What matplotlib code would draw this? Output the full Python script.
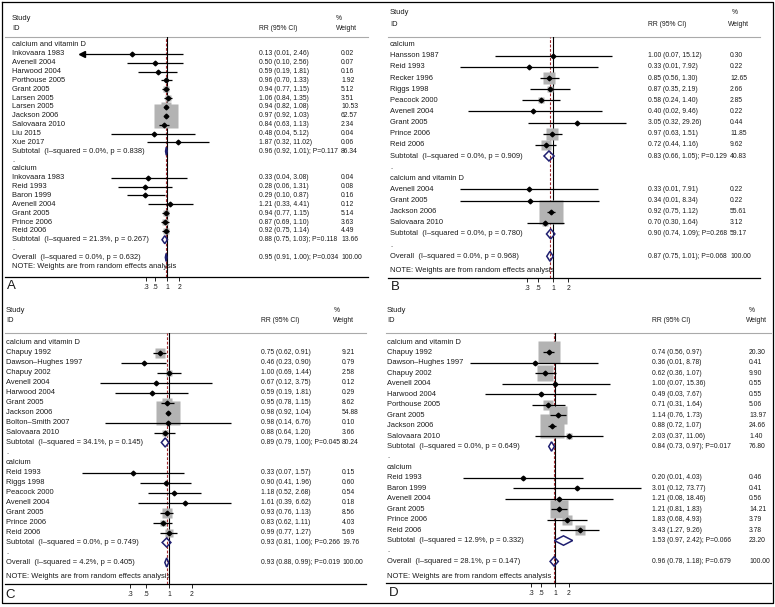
import matplotlib
matplotlib.use("Agg")
import matplotlib.pyplot as plt
from matplotlib.ticker import NullLocator
import numpy as np

plt.rcParams['font.family'] = ['Liberation Sans', 'DejaVu Sans']

# ---------------- DATA ----------------
# Panel A
A1_TITLE = "calcium and vitamin D"
A1_STUDY = ["Inkovaara 1983", "Avenell 2004", "Harwood 2004", "Porthouse 2005", "Grant 2005",
            "Larsen 2005", "Larsen 2005", "Jackson 2006", "Salovaara 2010", "Liu 2015", "Xue 2017"]
A1_RR = [0.13, 0.50, 0.59, 0.96, 0.94, 1.06, 0.94, 0.97, 0.84, 0.48, 1.87]
A1_LO = [0.0075, 0.10, 0.19, 0.70, 0.77, 0.84, 0.82, 0.92, 0.63, 0.04, 0.32]
A1_HI = [2.46, 2.56, 1.81, 1.33, 1.15, 1.35, 1.08, 1.03, 1.13, 5.12, 11.02]
A1_W = [0.02, 0.07, 0.16, 1.92, 5.12, 3.51, 10.53, 62.57, 2.34, 0.04, 0.06]
A1_SUB = [0.96, 0.92, 1.01]          # estimate, lower, upper
A1_SUB_STATS = [0.117, 86.34, 0.0, 0.838]   # P, weight, I-squared, p(het)

A2_TITLE = "calcium"
A2_STUDY = ["Inkovaara 1983", "Reid 1993", "Baron 1999", "Avenell 2004", "Grant 2005",
            "Prince 2006", "Reid 2006"]
A2_RR = [0.33, 0.28, 0.29, 1.21, 0.94, 0.87, 0.92]
A2_LO = [0.04, 0.06, 0.10, 0.33, 0.77, 0.69, 0.75]
A2_HI = [3.08, 1.31, 0.87, 4.41, 1.15, 1.10, 1.14]
A2_W = [0.04, 0.08, 0.16, 0.12, 5.14, 3.63, 4.49]
A2_SUB = [0.88, 0.75, 1.03]
A2_SUB_STATS = [0.118, 13.66, 21.3, 0.267]

A_OVERALL = [0.95, 0.91, 1.00]
A_OVERALL_STATS = [0.034, 100.00, 0.0, 0.632]

# Panel B
B1_TITLE = "calcium"
B1_STUDY = ["Hansson 1987", "Reid 1993", "Recker 1996", "Riggs 1998", "Peacock 2000",
            "Avenell 2004", "Grant 2005", "Prince 2006", "Reid 2006"]
B1_RR = [1.00, 0.33, 0.85, 0.87, 0.58, 0.40, 3.05, 0.97, 0.72]
B1_LO = [0.07, 0.014, 0.56, 0.35, 0.24, 0.02, 0.32, 0.63, 0.44]
B1_HI = [15.12, 7.92, 1.30, 2.19, 1.40, 9.46, 29.26, 1.51, 1.16]
B1_W = [0.30, 0.22, 12.65, 2.66, 2.85, 0.22, 0.44, 11.85, 9.62]
B1_SUB = [0.83, 0.66, 1.05]
B1_SUB_STATS = [0.129, 40.83, 0.0, 0.909]

B2_TITLE = "calcium and vitamin D"
B2_STUDY = ["Avenell 2004", "Grant 2005", "Jackson 2006", "Salovaara 2010"]
B2_RR = [0.33, 0.34, 0.92, 0.70]
B2_LO = [0.014, 0.014, 0.75, 0.30]
B2_HI = [7.91, 8.34, 1.12, 1.64]
B2_W = [0.22, 0.22, 55.61, 3.12]
B2_SUB = [0.90, 0.74, 1.09]
B2_SUB_STATS = [0.268, 59.17, 0.0, 0.780]

B_OVERALL = [0.87, 0.75, 1.01]
B_OVERALL_STATS = [0.068, 100.00, 0.0, 0.968]

# Panel C
C1_TITLE = "calcium and vitamin D"
C1_STUDY = ["Chapuy 1992", "Dawson\u2013Hughes 1997", "Chapuy 2002", "Avenell 2004", "Harwood 2004",
            "Grant 2005", "Jackson 2006", "Bolton\u2013Smith 2007", "Salovaara 2010"]
C1_RR = [0.75, 0.46, 1.00, 0.67, 0.59, 0.95, 0.98, 0.98, 0.88]
C1_LO = [0.62, 0.23, 0.69, 0.12, 0.19, 0.78, 0.92, 0.14, 0.64]
C1_HI = [0.91, 0.90, 1.44, 3.75, 1.81, 1.15, 1.04, 6.76, 1.20]
C1_W = [9.21, 0.79, 2.58, 0.12, 0.29, 8.62, 54.88, 0.10, 3.66]
C1_SUB = [0.89, 0.79, 1.00]
C1_SUB_STATS = [0.045, 80.24, 34.1, 0.145]

C2_TITLE = "calcium"
C2_STUDY = ["Reid 1993", "Riggs 1998", "Peacock 2000", "Avenell 2004", "Grant 2005",
            "Prince 2006", "Reid 2006"]
C2_RR = [0.33, 0.90, 1.18, 1.61, 0.93, 0.83, 0.99]
C2_LO = [0.07, 0.41, 0.52, 0.39, 0.76, 0.62, 0.77]
C2_HI = [1.57, 1.96, 2.68, 6.62, 1.13, 1.11, 1.27]
C2_W = [0.15, 0.60, 0.54, 0.18, 8.56, 4.03, 5.69]
C2_SUB = [0.93, 0.81, 1.06]
C2_SUB_STATS = [0.266, 19.76, 0.0, 0.749]

C_OVERALL = [0.93, 0.88, 0.99]
C_OVERALL_STATS = [0.019, 100.00, 4.2, 0.405]

# Panel D
D1_TITLE = "calcium and vitamin D"
D1_STUDY = ["Chapuy 1992", "Dawson\u2013Hughes 1997", "Chapuy 2002", "Avenell 2004", "Harwood 2004",
            "Porthouse 2005", "Grant 2005", "Jackson 2006", "Salovaara 2010"]
D1_RR = [0.74, 0.36, 0.62, 1.00, 0.49, 0.71, 1.14, 0.88, 2.03]
D1_LO = [0.56, 0.014, 0.36, 0.07, 0.03, 0.31, 0.76, 0.72, 0.37]
D1_HI = [0.97, 8.78, 1.07, 15.36, 7.67, 1.64, 1.73, 1.07, 11.06]
D1_W = [20.30, 0.41, 9.90, 0.55, 0.55, 5.06, 13.97, 24.66, 1.40]
D1_SUB = [0.84, 0.73, 0.97]
D1_SUB_STATS = [0.017, 76.80, 0.0, 0.649]

D2_TITLE = "calcium"
D2_STUDY = ["Reid 1993", "Baron 1999", "Avenell 2004", "Grant 2005", "Prince 2006", "Reid 2006"]
D2_RR = [0.20, 3.01, 1.21, 1.21, 1.83, 3.43]
D2_LO = [0.01, 0.12, 0.08, 0.81, 0.68, 1.27]
D2_HI = [4.03, 73.77, 18.46, 1.83, 4.93, 9.26]
D2_W = [0.46, 0.41, 0.56, 14.21, 3.79, 3.78]
D2_SUB = [1.53, 0.97, 2.42]
D2_SUB_STATS = [0.066, 23.20, 12.9, 0.332]

D_OVERALL = [0.96, 0.78, 1.18]
D_OVERALL_STATS = [0.679, 100.00, 28.1, 0.147]

TICKS = [0.3, 0.5, 1, 2]
TICK_LABELS = [".3", ".5", "1", "2"]
NOTE = "NOTE: Weights are from random effects analysis"
PANEL_LETTERS = ["A", "B", "C", "D"]

# ---------------- LAYOUT (pixels) ----------------
W, H = 775, 607
LAYOUT = {
    "A": dict(name_x=12, rr_x=259, w_x=341, pct_x=336, wt_x=336, study_y=18, id_y=29, hline_y=37,
              x0=5, x1=368, row0=45, sp=8.85, note_y=267, axis_y=277, one_x=167, k=40,
              letter=(7, 286), clip=0.01),
    "B": dict(name_x=390, rr_x=648, w_x=730, pct_x=732, wt_x=728, study_y=13, id_y=24, hline_y=37,
              x0=388, x1=760, row0=44.6, sp=11.14, note_y=271, axis_y=278, one_x=553, k=50,
              letter=(391, 287), clip=None),
    "C": dict(name_x=6, rr_x=261, w_x=342, pct_x=334, wt_x=333, study_y=310, id_y=321, hline_y=333,
              x0=5, x1=366, row0=342.5, sp=10.0, note_y=577, axis_y=584, one_x=169, k=75,
              letter=(5, 595), clip=None),
    "D": dict(name_x=387, rr_x=652, w_x=749, pct_x=749, wt_x=746, study_y=310, id_y=321, hline_y=333,
              x0=386, x1=771, row0=342, sp=10.45, note_y=577, axis_y=583, one_x=555, k=46,
              letter=(389, 593), clip=None),
}

FS = 5.4      # names / headers
FSN = 4.9     # numeric columns
TXT = "#1a1a1a"
BOX_COLOR = "#b3b3b3"
DIAM_COLOR = "#1f1f70"
RED = "#a0282d"
BOX_MAX_PX = 24

fig = plt.figure(figsize=(W / 100, H / 100), dpi=100)
T = fig.add_axes([0, 0, 1, 1])
T.set_xlim(0, W)
T.set_ylim(H, 0)
T.axis("off")

# outer frame
T.plot([1.5, 772.5, 772.5, 1.5, 1.5], [1.5, 1.5, 602.5, 602.5, 1.5], color="black", lw=0.9)


def f2(v):
    return f"{v:.2f}"


def draw_panel(key, letter, groups, overall, overall_stats):
    L = LAYOUT[key]
    sp, row0 = L["sp"], L["row0"]
    # header
    T.text(L["name_x"], L["study_y"], "Study", fontsize=FS, color=TXT, va="center", ha="left")
    T.text(L["name_x"], L["id_y"], "ID", fontsize=FS, color=TXT, va="center", ha="left")
    T.text(L["rr_x"], L["id_y"], "RR (95% CI)", fontsize=FSN, color=TXT, va="center", ha="left")
    T.text(L["pct_x"], L["study_y"], "%", fontsize=FSN, color=TXT, va="center", ha="left")
    T.text(L["wt_x"], L["id_y"], "Weight", fontsize=FSN, color=TXT, va="center", ha="left")
    T.plot([L["x0"], L["x1"]], [L["hline_y"]] * 2, color="#aaaaaa", lw=0.8)
    T.plot([L["x0"], L["x1"]], [L["axis_y"]] * 2, color="black", lw=0.9)
    T.text(L["name_x"], L["note_y"], NOTE, fontsize=FS, color=TXT, va="center", ha="left")
    T.text(L["letter"][0], L["letter"][1], letter, fontsize=9.5, color=TXT, va="center", ha="left")

    # forest axes (log scale)
    lo_lim, hi_lim = 1e-3, 1e3
    width_px = L["k"] * (np.log10(hi_lim) - np.log10(lo_lim))
    left_px = L["one_x"] - L["k"] * (0 - np.log10(lo_lim))
    ax = fig.add_axes([left_px / W, 1 - L["axis_y"] / H, width_px / W, (L["axis_y"] - L["hline_y"]) / H])
    ax.set_xscale("log")
    ax.set_xlim(lo_lim, hi_lim)
    ax.set_ylim(L["axis_y"], L["hline_y"])
    ax.patch.set_alpha(0)
    for s in ax.spines.values():
        s.set_visible(False)
    ax.set_yticks([])
    ax.set_xticks(TICKS)
    ax.set_xticklabels(TICK_LABELS)
    ax.xaxis.set_minor_locator(NullLocator())
    ax.tick_params(axis="x", direction="out", length=3.2, width=0.6, pad=1.5, labelsize=FSN,
                   colors="black", labelcolor=TXT)

    ax.axvline(1, color="black", lw=0.8, zorder=0.5)
    ax.axvline(overall[0], color=RED, lw=0.8, ls=(0, (2.5, 1.5)), zorder=0.6)

    wmax = max(max(g[5]) for g in groups)
    half_h = 0.45 * sp

    def diamond(y, ci):
        est, lo, hi = ci
        ax.fill([lo, est, hi, est, lo], [y, y - half_h, y, y + half_h, y],
                facecolor="none", edgecolor=DIAM_COLOR, lw=1.1, zorder=4, clip_on=False)

    def stat_label(prefix, stats):
        return f"{prefix}  (I\u2013squared = {stats[2]:.1f}%, p = {stats[3]:.3f})"

    r = 0
    for gi, (title, study, rr, lo, hi, w, sub, sub_stats) in enumerate(groups):
        y = row0 + r * sp
        T.text(L["name_x"], y, title, fontsize=FS, color=TXT, va="center", ha="left")
        r += 1
        for i in range(len(study)):
            y = row0 + r * sp
            T.text(L["name_x"], y, study[i], fontsize=FS, color=TXT, va="center", ha="left")
            T.text(L["rr_x"], y, f"{f2(rr[i])} ({f2(lo[i])}, {f2(hi[i])})", fontsize=FSN,
                   color=TXT, va="center", ha="left")
            T.text(L["w_x"], y, f2(w[i]), fontsize=FSN, color=TXT, va="center", ha="left")
            side_px = BOX_MAX_PX * np.sqrt(w[i] / wmax)
            if side_px > 1.5:
                ax.plot([rr[i]], [y], marker="s", ms=side_px * 0.72, color=BOX_COLOR, mec="none",
                        zorder=1, clip_on=False)
            ax.plot([lo[i], hi[i]], [y, y], color="black", lw=0.9, zorder=2, clip_on=False,
                    solid_capstyle="butt")
            if L["clip"] is not None and lo[i] < L["clip"]:
                ax.plot([lo[i]], [y], marker="<", ms=4.2, color="black", zorder=2, clip_on=False)
            ax.plot([rr[i]], [y], marker="D", ms=2.4, color="black", zorder=3, clip_on=False)
            r += 1
        y = row0 + r * sp
        T.text(L["name_x"], y, stat_label("Subtotal", sub_stats), fontsize=FS, color=TXT,
               va="center", ha="left")
        T.text(L["rr_x"], y, f"{f2(sub[0])} ({f2(sub[1])}, {f2(sub[2])}); P={sub_stats[0]:.3f}",
               fontsize=FSN, color=TXT, va="center", ha="left")
        T.text(L["w_x"], y, f2(sub_stats[1]), fontsize=FSN, color=TXT, va="center", ha="left")
        diamond(y, sub)
        r += 1
        y = row0 + r * sp
        T.text(L["name_x"], y, ".", fontsize=FS, color=TXT, va="center", ha="left")
        r += 1
    y = row0 + r * sp
    T.text(L["name_x"], y, stat_label("Overall", overall_stats), fontsize=FS, color=TXT,
           va="center", ha="left")
    T.text(L["rr_x"], y, f"{f2(overall[0])} ({f2(overall[1])}, {f2(overall[2])}); P={overall_stats[0]:.3f}",
           fontsize=FSN, color=TXT, va="center", ha="left")
    T.text(L["w_x"], y, f2(overall_stats[1]), fontsize=FSN, color=TXT, va="center", ha="left")
    diamond(y, overall)


draw_panel("A", PANEL_LETTERS[0],
           [(A1_TITLE, A1_STUDY, A1_RR, A1_LO, A1_HI, A1_W, A1_SUB, A1_SUB_STATS),
            (A2_TITLE, A2_STUDY, A2_RR, A2_LO, A2_HI, A2_W, A2_SUB, A2_SUB_STATS)],
           A_OVERALL, A_OVERALL_STATS)
draw_panel("B", PANEL_LETTERS[1],
           [(B1_TITLE, B1_STUDY, B1_RR, B1_LO, B1_HI, B1_W, B1_SUB, B1_SUB_STATS),
            (B2_TITLE, B2_STUDY, B2_RR, B2_LO, B2_HI, B2_W, B2_SUB, B2_SUB_STATS)],
           B_OVERALL, B_OVERALL_STATS)
draw_panel("C", PANEL_LETTERS[2],
           [(C1_TITLE, C1_STUDY, C1_RR, C1_LO, C1_HI, C1_W, C1_SUB, C1_SUB_STATS),
            (C2_TITLE, C2_STUDY, C2_RR, C2_LO, C2_HI, C2_W, C2_SUB, C2_SUB_STATS)],
           C_OVERALL, C_OVERALL_STATS)
draw_panel("D", PANEL_LETTERS[3],
           [(D1_TITLE, D1_STUDY, D1_RR, D1_LO, D1_HI, D1_W, D1_SUB, D1_SUB_STATS),
            (D2_TITLE, D2_STUDY, D2_RR, D2_LO, D2_HI, D2_W, D2_SUB, D2_SUB_STATS)],
           D_OVERALL, D_OVERALL_STATS)

fig.savefig("out.png", dpi=100)
